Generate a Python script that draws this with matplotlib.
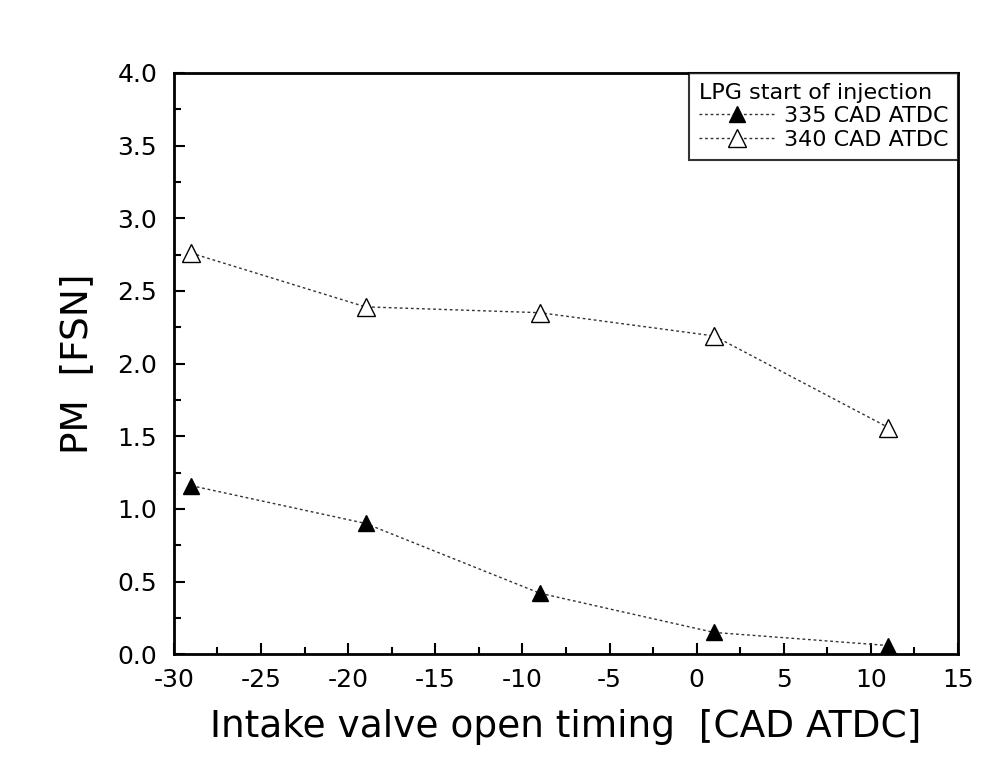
import matplotlib.pyplot as plt
from matplotlib.ticker import MultipleLocator, FormatStrFormatter

ivo = [-29, -19, -9, 1, 11]
pm_335 = [1.16, 0.90, 0.42, 0.15, 0.06]
pm_340 = [2.76, 2.39, 2.35, 2.19, 1.56]

plt.rcParams['font.family'] = ['DejaVu Sans']
plt.rcParams['axes.unicode_minus'] = False

fig = plt.figure(figsize=(9.99, 7.67), dpi=100)
ax = fig.add_axes([0.174, 0.147, 0.785, 0.758])

ax.plot(ivo, pm_335, linestyle=(0, (2, 2)), color='#333333', lw=1,
        marker='^', ms=11, mfc='black', mec='black', label='335 CAD ATDC')
ax.plot(ivo, pm_340, linestyle=(0, (2, 2)), color='#333333', lw=1,
        marker='^', ms=13, mfc='white', mec='black', mew=1, label='340 CAD ATDC')

ax.set_xlim(-30, 15)
ax.set_ylim(0, 4.0)
ax.xaxis.set_major_locator(MultipleLocator(5))
ax.xaxis.set_minor_locator(MultipleLocator(2.5))
ax.yaxis.set_major_locator(MultipleLocator(0.5))
ax.yaxis.set_minor_locator(MultipleLocator(0.25))
ax.yaxis.set_major_formatter(FormatStrFormatter('%.1f'))
ax.tick_params(which='both', direction='in', labelsize=18, width=1.5)
ax.tick_params(which='major', length=8)
ax.tick_params(which='minor', length=5)
ax.tick_params(axis='x', pad=10)
ax.tick_params(axis='y', pad=12)
for s in ax.spines.values():
    s.set_linewidth(2)

ax.set_xlabel('Intake valve open timing  [CAD ATDC]', fontsize=27, labelpad=12)
ax.set_ylabel('PM  [FSN]', fontsize=27, labelpad=16)

leg = ax.legend(title='LPG start of injection', loc='upper right', fontsize=16,
                title_fontsize=16, frameon=True, fancybox=False, borderaxespad=0,
                handlelength=3.4, handletextpad=0.4, borderpad=0.45, labelspacing=0.15)
leg._legend_box.align = 'left'
leg.get_frame().set_edgecolor('black')
leg.get_frame().set_linewidth(1.5)

fig.savefig('out.png', dpi=100)
